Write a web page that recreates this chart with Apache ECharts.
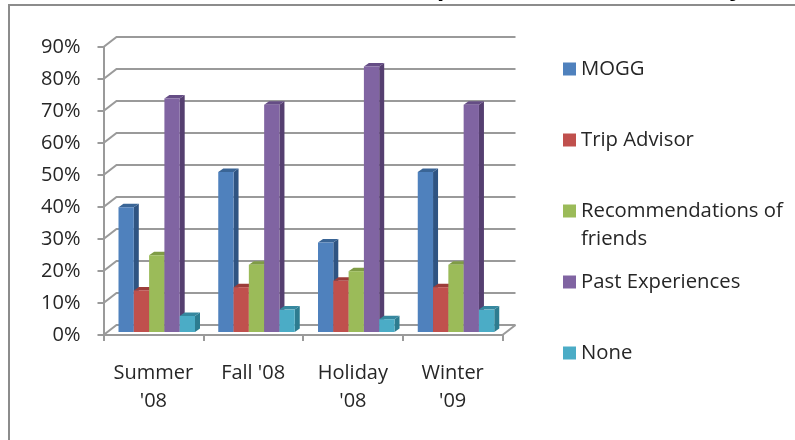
<!DOCTYPE html>
<html>
<head>
<meta charset="utf-8">
<style>html,body{margin:0;padding:0;background:#fff}#chart{width:795px;height:440px}</style>
<script src="https://cdn.jsdelivr.net/npm/echarts@6/dist/echarts.min.js"></script>
</head>
<body>
<div id="chart"></div>
<script>
var categories = ["Summer\n'08", "Fall '08", "Holiday\n'08", "Winter\n'09"];
var yTicks = [0, 10, 20, 30, 40, 50, 60, 70, 80, 90];
var mogg = [39, 50, 28, 50];
var tripAdvisor = [13, 14, 16, 14];
var recommendations = [24, 21, 19, 21];
var pastExperiences = [73, 71, 83, 71];
var none = [5, 7, 4, 7];

var seriesNames = ['MOGG', 'Trip Advisor', 'Recommendations of friends', 'Past Experiences', 'None'];
var seriesValues = [mogg, tripAdvisor, recommendations, pastExperiences, none];
var colors = ['#4f81bd', '#c0504d', '#9bbb59', '#8064a2', '#4bacc6'];
var sideColors = ['#2f5482', '#8a3634', '#6f8a3c', '#553f70', '#2d7c90'];
var capColors = ['#3a6596', '#9c3d3a', '#7f9c46', '#654d85', '#36889f'];
var legendTops = [50, 121, 164, 263, 334];

var chart = echarts.init(document.getElementById('chart'));
var textColor = '#262626';
var fontName = 'Open Sans';
var wallColor = '#9a9a9a';

// floor and back wall of the fake 3d box
function renderWalls(params, api) {
    var p = api.coord([0, api.value(0)]);
    var left = params.coordSys.x, right = left + params.coordSys.width;
    var dx = 13, dy = -10;
    var children = [{
        type: 'polyline',
        shape: {points: [[left - 6, p[1]], [left, p[1]], [left + dx, p[1] + dy], [right + dx, p[1] + dy]]},
        style: {stroke: wallColor, lineWidth: 2, fill: null}
    }];
    if (api.value(0) === 0) {
        children.push({
            type: 'line',
            shape: {x1: right, y1: p[1], x2: right + dx, y2: p[1] + dy},
            style: {stroke: wallColor, lineWidth: 2}
        });
    }
    return {type: 'group', children: children};
}

function barRenderer(idx) {
    return function (params, api) {
        var cat = api.value(0);
        var top = api.coord([cat, api.value(1)]);
        var base = api.coord([cat, 0]);
        var w = 15.3, dx = 5, dy = -3.5;
        var band = api.size([1, 0])[0];
        var x = top[0] - band / 2 + 15 + idx * w;
        var y0 = top[1] - 3, y1 = base[1] - 3;
        return {
            type: 'group',
            children: [
                {type: 'polygon', shape: {points: [[x + w, y0], [x + w + dx, y0 + dy], [x + w + dx, y1 + dy], [x + w, y1]]},
                    style: {fill: sideColors[idx]}},
                {type: 'polygon', shape: {points: [[x, y0], [x + dx, y0 + dy], [x + w + dx, y0 + dy], [x + w, y0]]},
                    style: {fill: capColors[idx]}},
                {type: 'rect', shape: {x: x, y: y0, width: w, height: y1 - y0},
                    style: {fill: colors[idx]}}
            ]
        };
    };
}

var series = [{
    type: 'custom',
    name: 'walls',
    silent: true,
    renderItem: renderWalls,
    encode: {y: 0},
    data: yTicks.map(function (t) { return [t]; }),
    z: 1
}];
seriesNames.forEach(function (name, i) {
    series.push({
        type: 'custom',
        name: name,
        renderItem: barRenderer(i),
        itemStyle: {color: colors[i]},
        encode: {x: 0, y: 1},
        data: seriesValues[i].map(function (v, c) { return [c, v]; }),
        z: 2 + i
    });
});

var legends = seriesNames.map(function (name, i) {
    return {
        left: 558,
        top: legendTops[i],
        orient: 'vertical',
        data: [name],
        icon: 'rect',
        itemWidth: 13,
        itemHeight: 13,
        selectedMode: false,
        formatter: function (n) {
            return n === 'Recommendations of friends' ? '\nRecommendations of\nfriends' : n;
        },
        textStyle: {color: textColor, fontFamily: fontName, fontSize: 20.3, lineHeight: 28}
    };
});

chart.setOption({
    animation: false,
    backgroundColor: '#fff',
    legend: legends,
    grid: {left: 103.5, top: 47, width: 399, height: 288},
    xAxis: {
        type: 'category',
        data: categories,
        axisLine: {lineStyle: {color: wallColor, width: 2}},
        axisTick: {show: true, length: 6, lineStyle: {color: wallColor, width: 2}},
        axisLabel: {color: textColor, fontFamily: fontName, fontSize: 20, lineHeight: 28, margin: 24, interval: 0}
    },
    yAxis: {
        type: 'value',
        min: 0,
        max: 90,
        interval: 10,
        axisLine: {show: true, lineStyle: {color: wallColor, width: 2}},
        axisTick: {show: false},
        splitLine: {show: false},
        axisLabel: {color: textColor, fontFamily: fontName, fontSize: 20, margin: 23, padding: [2, 0, 0, 0], formatter: '{value}%'}
    },
    graphic: [
        {type: 'polyline', silent: true, shape: {points: [[9, 440], [9, 5], [795, 5]]},
            style: {stroke: '#8c8c8c', lineWidth: 2, fill: null}},
        // descenders of the cropped title
        {type: 'text', silent: true, x: 437, y: -24, style: {text: 'p', fill: '#000', font: 'bold 26px "Liberation Sans"'}},
        {type: 'text', silent: true, x: 729, y: -24, style: {text: 'y', fill: '#000', font: 'bold 26px "Liberation Sans"'}}
    ],
    series: series
});
</script>
</body>
</html>
